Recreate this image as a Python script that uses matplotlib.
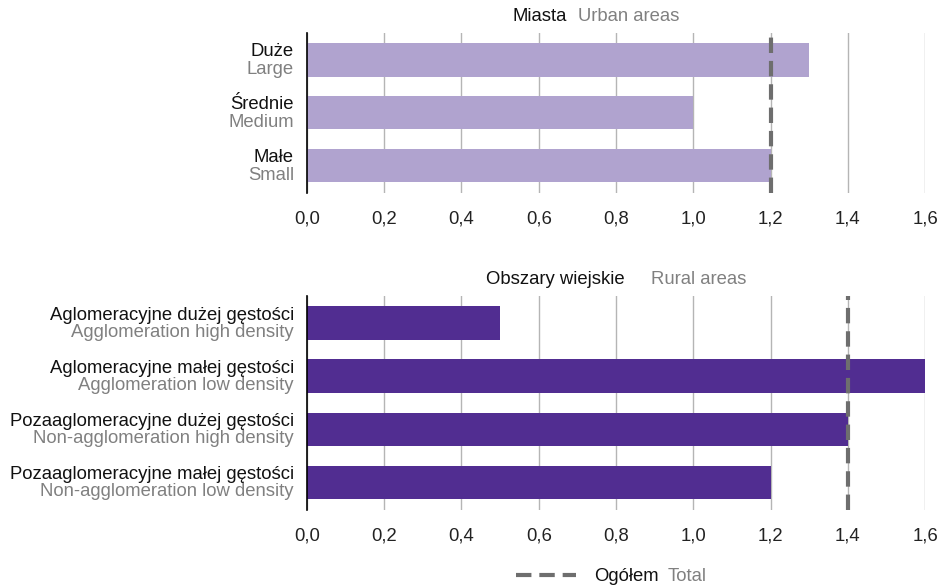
import matplotlib.pyplot as plt
import numpy as np

plt.rcParams['font.family'] = ['Liberation Sans', 'DejaVu Sans']

# Dane
urban_pl = ['Duże', 'Średnie', 'Małe']
urban_en = ['Large', 'Medium', 'Small']
urban_vals = [1.3, 1.0, 1.2]
urban_total = 1.2

rural_pl = ['Aglomeracyjne dużej gęstości', 'Aglomeracyjne małej gęstości',
            'Pozaaglomeracyjne dużej gęstości', 'Pozaaglomeracyjne małej gęstości']
rural_en = ['Agglomeration high density', 'Agglomeration low density',
            'Non-agglomeration high density', 'Non-agglomeration low density']
rural_vals = [0.5, 1.6, 1.4, 1.2]
rural_total = 1.4

xticks = [0.0, 0.2, 0.4, 0.6, 0.8, 1.0, 1.2, 1.4, 1.6]

LIGHT = '#b0a3cf'
DARK = '#512d91'
DASH = '#6e6e6e'
GREY = '#808080'
FS = 13.3
W, H = 945, 585
DASH_STYLE = dict(color=DASH, lw=3, ls=(0, (3.7, 1.9)))


def px(x, y):
    return x / W, 1 - y / H


def panel(rect, pl, en, vals, total, color):
    ax = fig.add_axes(rect)
    y = np.arange(len(vals))
    ax.barh(y, vals, height=0.63, color=color, zorder=2)
    ax.set_xlim(0, 1.6)
    ax.set_ylim(len(vals) - 0.48, -0.51)
    ax.set_xticks(xticks)
    ax.set_xticklabels([f'{t:.1f}'.replace('.', ',') for t in xticks], fontsize=FS, color='#222222')
    ax.tick_params(axis='x', length=0, pad=12.5)
    ax.set_yticks([])
    ax.grid(axis='x', color='#b5b5b5', lw=1, zorder=0)
    for s in ['top', 'right', 'bottom']:
        ax.spines[s].set_visible(False)
    ax.spines['left'].set_color('black')
    ax.spines['left'].set_linewidth(1.2)
    ax.spines['left'].set_zorder(3)
    ax.axvline(total, zorder=4, **DASH_STYLE)
    for i in range(len(vals)):
        ax.annotate(pl[i], (0, i), xycoords=('axes fraction', 'data'), xytext=(-13, 3.5),
                    textcoords='offset pixels', ha='right', va='baseline', fontsize=FS, color='#111111')
        ax.annotate(en[i], (0, i), xycoords=('axes fraction', 'data'), xytext=(-13, -14),
                    textcoords='offset pixels', ha='right', va='baseline', fontsize=FS, color=GREY)
    return ax


fig = plt.figure(figsize=(9.45, 5.85), dpi=100)

panel([307 / W, 1 - 193 / H, 618 / W, 160 / H], urban_pl, urban_en, urban_vals, urban_total, LIGHT)
panel([307 / W, 1 - 510 / H, 618 / W, 214 / H], rural_pl, rural_en, rural_vals, rural_total, DARK)

# Tytuly paneli
fig.text(*px(567, 21), 'Miasta', ha='right', va='baseline', fontsize=FS, color='#111111')
fig.text(*px(578, 21), 'Urban areas', ha='left', va='baseline', fontsize=FS, color=GREY)
fig.text(*px(625, 284), 'Obszary wiejskie', ha='right', va='baseline', fontsize=FS, color='#111111')
fig.text(*px(651, 284), 'Rural areas', ha='left', va='baseline', fontsize=FS, color=GREY)

# Legenda
fig.add_artist(plt.Line2D([516 / W, 576 / W], [1 - 575 / H] * 2, transform=fig.transFigure,
                          **DASH_STYLE))
fig.text(*px(594, 581), 'Ogółem', ha='left', va='baseline', fontsize=FS, color='#111111')
fig.text(*px(668, 581), 'Total', ha='left', va='baseline', fontsize=FS, color=GREY)

fig.savefig('out.png', dpi=100)
